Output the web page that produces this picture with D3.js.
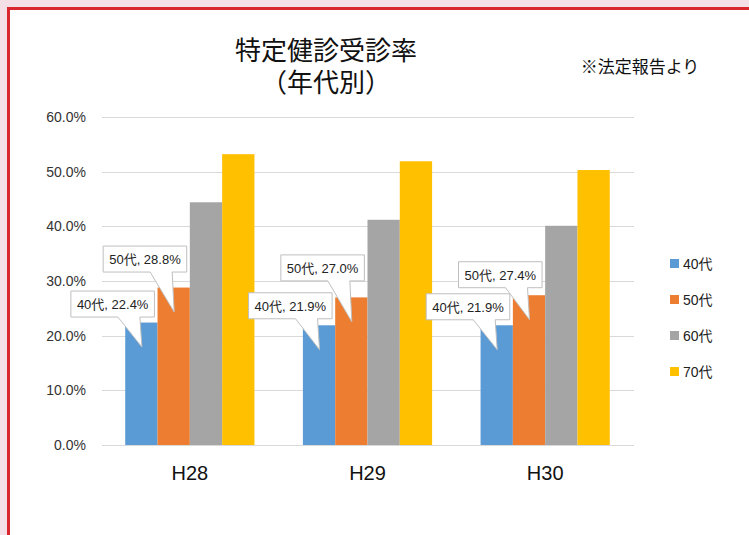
<!DOCTYPE html>
<html><head><meta charset="utf-8">
<script src="https://cdn.jsdelivr.net/npm/d3@7"></script>
<style>
html,body{margin:0;padding:0;background:#fff;}
svg{display:block;}
text{font-family:"Liberation Sans","Noto Sans CJK JP",sans-serif;}
</style></head>
<body><svg id="chart" width="749" height="535"></svg>
<script>
// ---- data ----
const categories = ["H28", "H29", "H30"];
const seriesNames = ["40代", "50代", "60代", "70代"];
const v40 = [0.224, 0.219, 0.219];
const v50 = [0.288, 0.270, 0.274];
const v60 = [0.444, 0.412, 0.401];
const v70 = [0.532, 0.519, 0.503];
const seriesValues = [v40, v50, v60, v70];
const yTicks = [0, 0.1, 0.2, 0.3, 0.4, 0.5, 0.6];
const labeledSeries = [0, 1]; // 40代, 50代 carry callout labels
const titleLines = ["特定健診受診率", "（年代別）"];
const noteText = "※法定報告より";

// ---- layout / style ----
const colors = ["#5B9BD5", "#ED7D31", "#A5A5A5", "#FFC000"];
const calloutLift = [[56, 66], [57, 67], [56, 58]]; // box-top distance above pointer tip

const svg = d3.select("#chart");

// page frame
svg.append("rect").attr("width", 749).attr("height", 535).attr("fill", "#f4dfe6");
svg.append("rect").attr("x", 8.5).attr("y", 8.5).attr("width", 760).attr("height", 560)
  .attr("fill", "#fff").attr("stroke", "#d8262f").attr("stroke-width", 3);

const y = d3.scaleLinear().domain([0, 0.6]).range([445, 117]);
const x0 = d3.scaleBand().domain(categories).range([101, 634]);
const step = x0.bandwidth();
const bw = step / 5.5;
const x1 = d3.scaleBand().domain(seriesNames).range([0.75 * bw, step - 0.75 * bw]);

// gridlines
svg.append("g").selectAll("line").data(yTicks).join("line")
  .attr("x1", 102).attr("x2", 634)
  .attr("y1", d => Math.round(y(d)) + 0.5).attr("y2", d => Math.round(y(d)) + 0.5)
  .attr("stroke", "#d9d9d9").attr("stroke-width", 1);

// y axis labels
const yAxis = d3.axisLeft(y).tickValues(yTicks).tickFormat(d3.format(".1%")).tickSize(0).tickPadding(0);
const gy = svg.append("g").attr("transform", "translate(86,0)").call(yAxis);
gy.select(".domain").remove();
gy.selectAll("text").attr("font-size", 14).attr("fill", "#333")
  .attr("font-family", "Liberation Sans, sans-serif");

// x axis labels
const xAxis = d3.axisBottom(x0).tickSize(0).tickPadding(0);
const gx = svg.append("g").attr("transform", "translate(0,466)").call(xAxis);
gx.select(".domain").remove();
gx.selectAll("text").attr("font-size", 20).attr("fill", "#111")
  .attr("font-family", "Liberation Sans, sans-serif");

// bars
const groups = svg.append("g").selectAll("g").data(categories).join("g")
  .attr("transform", d => `translate(${x0(d)},0)`);
groups.selectAll("rect").data((c, ci) => seriesNames.map((s, si) => ({s, si, v: seriesValues[si][ci]})))
  .join("rect")
  .attr("x", d => x1(d.s)).attr("width", x1.bandwidth())
  .attr("y", d => y(d.v)).attr("height", d => y(0) - y(d.v))
  .attr("fill", d => colors[d.si]);

// callout labels
const fmt = d3.format(".1%");
const callG = svg.append("g");
categories.forEach((c, ci) => {
  labeledSeries.forEach((si, k) => {
    const val = seriesValues[si][ci];
    const cx = x0(c) + x1(seriesNames[si]) + x1.bandwidth() / 2;
    const tipY = y(val) + 24;
    const boxTop = tipY - calloutLift[ci][k];
    const boxH = 26;
    const g = callG.append("g");
    const path = g.append("path");
    const t = g.append("text").text(`${seriesNames[si]}, ${fmt(val)}`)
      .attr("font-size", 13).attr("fill", "#222");
    const tw = t.node().getComputedTextLength();
    const w = tw + 12;
    const left = cx - 71;
    const right = left + w;
    const bottom = boxTop + boxH;
    t.attr("x", left + 6).attr("y", boxTop + 18);
    path.attr("d", `M${left},${boxTop}H${right}V${bottom}H${cx - 2}L${cx},${tipY}L${cx - 24},${bottom}H${left}Z`)
      .attr("fill", "#fff").attr("stroke", "#bfbfbf").attr("stroke-width", 1);
    g.attr("transform", "translate(0.5,0.5)");
  });
});

// title
svg.append("text").attr("x", 326).attr("y", 60).attr("text-anchor", "middle")
  .attr("font-size", 26).attr("fill", "#111").attr("font-family", "Noto Sans CJK JP, sans-serif")
  .text(titleLines[0]);
svg.append("text").attr("x", 326).attr("y", 92).attr("text-anchor", "middle")
  .attr("font-size", 26).attr("fill", "#111").attr("font-family", "Noto Sans CJK JP, sans-serif")
  .text(titleLines[1]);
svg.append("text").attr("x", 640).attr("y", 73).attr("text-anchor", "middle")
  .attr("font-size", 17).attr("fill", "#111").attr("font-family", "Noto Sans CJK JP, sans-serif")
  .text(noteText);

// legend
const leg = svg.append("g").selectAll("g").data(seriesNames).join("g")
  .attr("transform", (d, i) => `translate(670,${263.5 + i * 36})`);
leg.append("rect").attr("x", 0).attr("y", -4.5).attr("width", 9).attr("height", 9)
  .attr("fill", (d, i) => colors[i]);
leg.append("text").attr("x", 13).attr("dy", "0.36em").attr("font-size", 14).attr("fill", "#222")
  .text(d => d);
</script></body></html>
